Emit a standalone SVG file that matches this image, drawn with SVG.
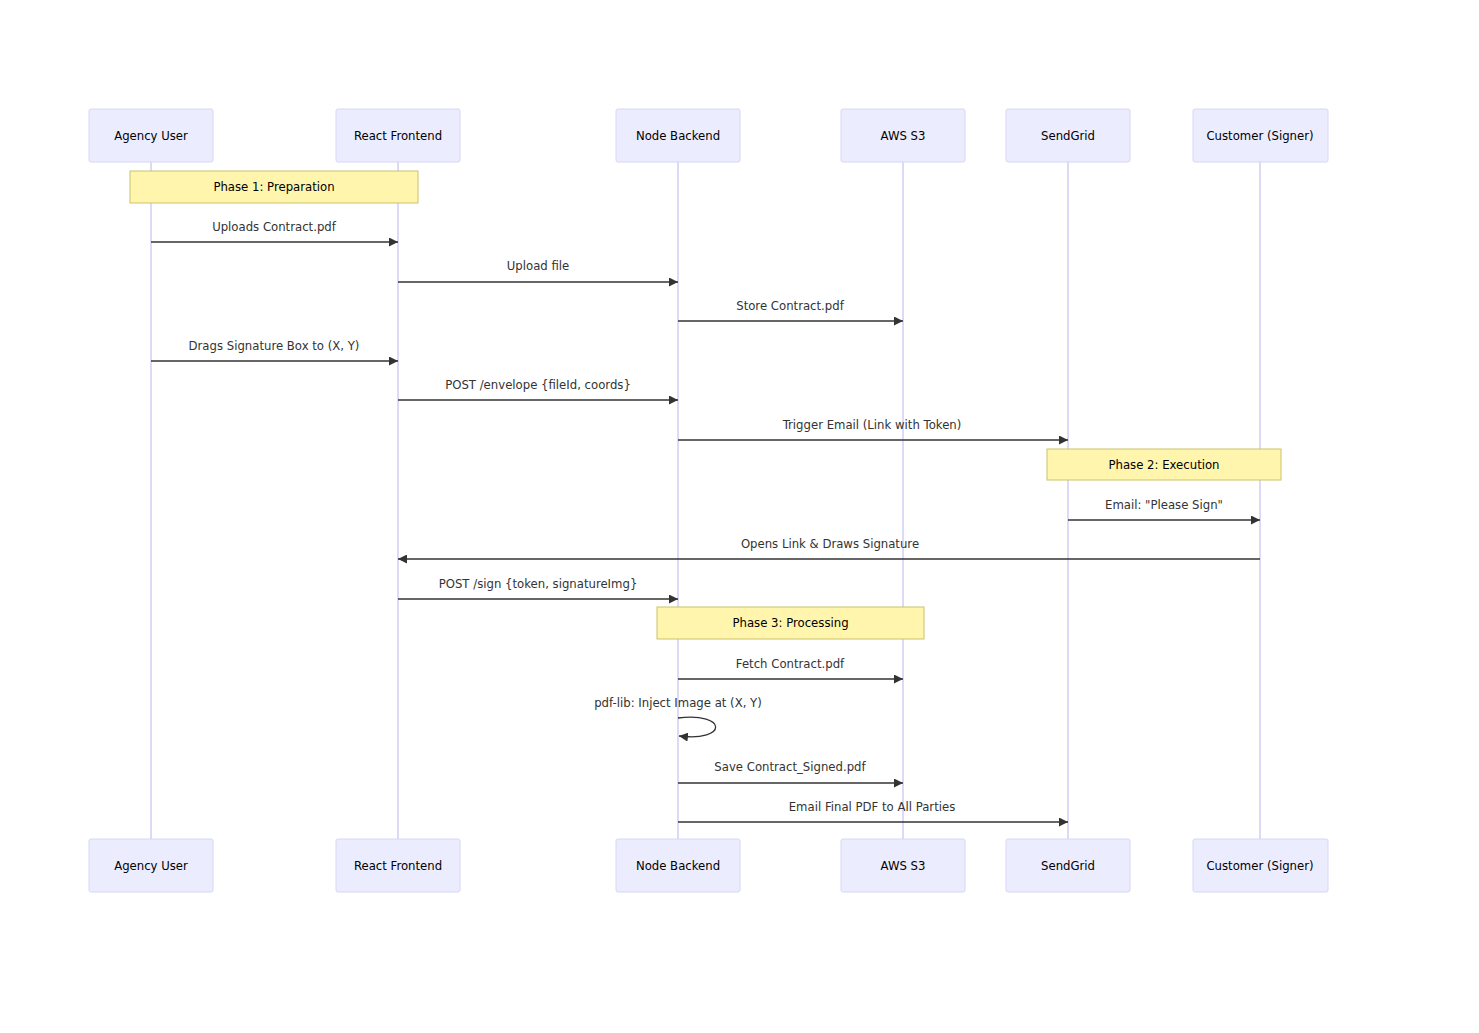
<svg xmlns="http://www.w3.org/2000/svg" width="1479" height="1033" viewBox="0 0 1479 1033">
<style>
text{font-family:"DejaVu Sans","Liberation Sans",sans-serif;font-size:11.7px;fill:#333;text-anchor:middle;dominant-baseline:central}
.actor rect{fill:#ececff;stroke:#d6d6f5;stroke-width:1}
.actor text{fill:#000}
.life{stroke:#d2ccf5;stroke-width:1.5}
.note rect{fill:#fff5ad;stroke:#c9c36a;stroke-width:1}
.note text{fill:#000}
.msg{stroke:#333;stroke-width:1.3;fill:none}
</style>
<defs>
<marker id="ah" viewBox="0 0 10 10" refX="10" refY="5" markerWidth="9" markerHeight="9" markerUnits="userSpaceOnUse" orient="auto">
<path d="M0,0 L10,5 L0,10 z" fill="#333"/>
</marker>
</defs>
<rect width="1479" height="1033" fill="#fff"/>
<g id="lifelines">
<line class="life" x1="151" y1="162" x2="151" y2="839"/>
<line class="life" x1="398" y1="162" x2="398" y2="839"/>
<line class="life" x1="678" y1="162" x2="678" y2="839"/>
<line class="life" x1="903" y1="162" x2="903" y2="839"/>
<line class="life" x1="1068" y1="162" x2="1068" y2="839"/>
<line class="life" x1="1260" y1="162" x2="1260" y2="839"/>
</g>
<g id="agency-user" class="actor">
<rect x="89" y="109" width="124" height="53" rx="2"/><text x="151" y="136">Agency User</text>
<rect x="89" y="839" width="124" height="53" rx="2"/><text x="151" y="866">Agency User</text>
</g>
<g id="react-frontend" class="actor">
<rect x="336" y="109" width="124" height="53" rx="2"/><text x="398" y="136">React Frontend</text>
<rect x="336" y="839" width="124" height="53" rx="2"/><text x="398" y="866">React Frontend</text>
</g>
<g id="node-backend" class="actor">
<rect x="616" y="109" width="124" height="53" rx="2"/><text x="678" y="136">Node Backend</text>
<rect x="616" y="839" width="124" height="53" rx="2"/><text x="678" y="866">Node Backend</text>
</g>
<g id="aws-s3" class="actor">
<rect x="841" y="109" width="124" height="53" rx="2"/><text x="903" y="136">AWS S3</text>
<rect x="841" y="839" width="124" height="53" rx="2"/><text x="903" y="866">AWS S3</text>
</g>
<g id="sendgrid" class="actor">
<rect x="1006" y="109" width="124" height="53" rx="2"/><text x="1068" y="136">SendGrid</text>
<rect x="1006" y="839" width="124" height="53" rx="2"/><text x="1068" y="866">SendGrid</text>
</g>
<g id="customer" class="actor">
<rect x="1193" y="109" width="135" height="53" rx="2"/><text x="1260" y="136">Customer (Signer)</text>
<rect x="1193" y="839" width="135" height="53" rx="2"/><text x="1260" y="866">Customer (Signer)</text>
</g>
<g id="note-phase1" class="note">
<rect x="130" y="171" width="288" height="32"/><text x="274" y="187">Phase 1: Preparation</text>
</g>
<g id="note-phase2" class="note">
<rect x="1047" y="449" width="234" height="31"/><text x="1164" y="465">Phase 2: Execution</text>
</g>
<g id="note-phase3" class="note">
<rect x="657" y="607" width="267" height="32"/><text x="790.5" y="623">Phase 3: Processing</text>
</g>
<g id="connectors">
<line class="msg" x1="151" y1="242" x2="398" y2="242" marker-end="url(#ah)"/>
<line class="msg" x1="398" y1="282" x2="678" y2="282" marker-end="url(#ah)"/>
<line class="msg" x1="678" y1="321" x2="903" y2="321" marker-end="url(#ah)"/>
<line class="msg" x1="151" y1="361" x2="398" y2="361" marker-end="url(#ah)"/>
<line class="msg" x1="398" y1="400" x2="678" y2="400" marker-end="url(#ah)"/>
<line class="msg" x1="678" y1="440" x2="1068" y2="440" marker-end="url(#ah)"/>
<line class="msg" x1="1068" y1="520" x2="1260" y2="520" marker-end="url(#ah)"/>
<line class="msg" x1="1260" y1="559" x2="398" y2="559" marker-end="url(#ah)"/>
<line class="msg" x1="398" y1="599" x2="678" y2="599" marker-end="url(#ah)"/>
<line class="msg" x1="678" y1="679" x2="903" y2="679" marker-end="url(#ah)"/>
<path class="msg" d="M678,718 C728,712 728,742 679,736" marker-end="url(#ah)"/>
<line class="msg" x1="678" y1="783" x2="903" y2="783" marker-end="url(#ah)"/>
<line class="msg" x1="678" y1="822" x2="1068" y2="822" marker-end="url(#ah)"/>
</g>
<g id="labels">
<text x="274" y="227">Uploads Contract.pdf</text>
<text x="538" y="266">Upload file</text>
<text x="790" y="306">Store Contract.pdf</text>
<text x="274" y="346">Drags Signature Box to (X, Y)</text>
<text x="538" y="385">POST /envelope {fileId, coords}</text>
<text x="872" y="425">Trigger Email (Link with Token)</text>
<text x="1164" y="505">Email: "Please Sign"</text>
<text x="830" y="544">Opens Link &amp; Draws Signature</text>
<text x="538" y="584">POST /sign {token, signatureImg}</text>
<text x="790" y="664">Fetch Contract.pdf</text>
<text x="678" y="703">pdf-lib: Inject Image at (X, Y)</text>
<text x="790" y="767">Save Contract_Signed.pdf</text>
<text x="872" y="807">Email Final PDF to All Parties</text>
</g>
</svg>
